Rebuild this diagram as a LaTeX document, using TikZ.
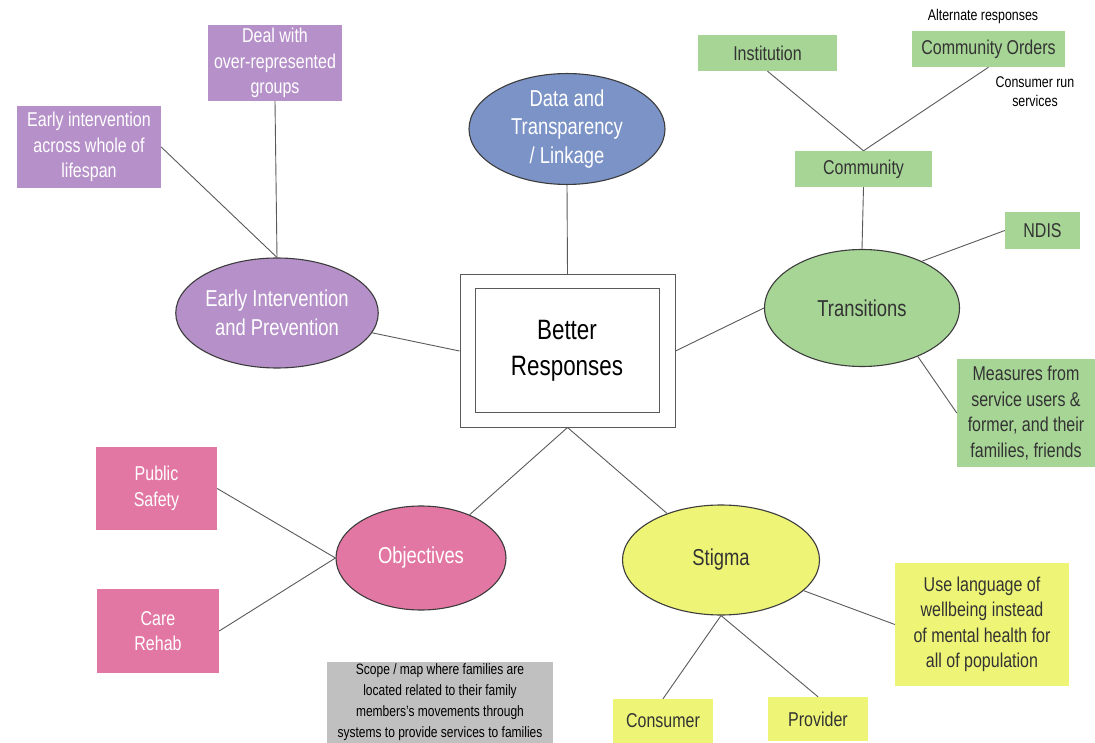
\documentclass[tikz,border=0pt]{standalone}
\usepackage{fontspec}
\setmainfont{Liberation Sans}[FakeStretch=0.8]
\usetikzlibrary{shapes.geometric}

\definecolor{linegray}{HTML}{5A5A5A}
\definecolor{edgegray}{HTML}{3C3C3C}
\definecolor{ink}{HTML}{333333}
\definecolor{bluefill}{HTML}{7B93C6}
\definecolor{purplefill}{HTML}{B690C9}
\definecolor{pinkfill}{HTML}{E377A3}
\definecolor{yellowfill}{HTML}{EEF576}
\definecolor{greenfill}{HTML}{A7D596}
\definecolor{greyfill}{HTML}{C0C0C0}

\tikzset{
  conn/.style={draw=linegray, line width=0.9pt},
  bubble/.style={ellipse, draw=edgegray, line width=1.1pt, inner sep=0pt,
    align=center, font=\fontsize{23}{28.5}\selectfont},
  card/.style={rectangle, inner sep=0pt, align=center,
    font=\fontsize{20}{25.5}\selectfont},
  note/.style={inner sep=0pt, align=center, font=\fontsize{15.5}{19}\selectfont},
  purplecard/.style={card, fill=purplefill, text=white},
  pinkcard/.style={card, fill=pinkfill, text=white},
  greencard/.style={card, fill=greenfill, text=ink},
  yellowcard/.style={card, fill=yellowfill, text=ink},
}

\begin{document}
\begin{tikzpicture}[x=1pt, y=-1pt]
\useasboundingbox[fill=white] (0,0) rectangle (1095,743);

% central hub: double framed box
\node[draw=linegray, line width=1pt, fill=white, minimum width=215pt, minimum height=152pt, inner sep=0pt] (core) at (567.5,351) {};
\node[draw=linegray, line width=1pt, minimum width=184pt, minimum height=123pt, inner sep=0pt,
      align=center, font=\fontsize{28}{36}\selectfont] (coreIn) at (567,350.5) {Better\\Responses};

% main themes
\node[bubble, fill=bluefill, text=white, minimum width=196pt, minimum height=100pt] (data) at (567,129) {Data and\\Transparency\\/ Linkage};
\node[bubble, fill=purplefill, text=white, minimum width=196pt, minimum height=110pt] (early) at (277,313) {Early Intervention\\and Prevention};
\node[bubble, fill=greenfill, text=ink, minimum width=195pt, minimum height=117pt] (trans) at (862,308) {Transitions};
\node[bubble, fill=pinkfill, text=white, minimum width=170pt, minimum height=104pt] (obj) at (421,558) {Objectives};
\node[bubble, fill=yellowfill, text=ink, minimum width=197pt, minimum height=110pt] (stigma) at (721,560) {Stigma};

% early intervention branch
\node[purplecard, minimum width=134pt, minimum height=76pt] (deal) at (275,63) {Deal with\\over-represented\\groups};
\node[purplecard, minimum width=144pt, minimum height=82pt] (lifespan) at (89,147) {Early intervention\\across whole of\\lifespan};

% transitions branch
\node[greencard, minimum width=139pt, minimum height=36pt] (inst) at (767.5,53) {Institution};
\node[greencard, minimum width=153pt, minimum height=36pt] (orders) at (988.5,49) {Community Orders};
\node[greencard, minimum width=137pt, minimum height=36pt] (comm) at (863.5,169) {Community};
\node[greencard, minimum width=75pt, minimum height=37pt] (ndis) at (1042.5,230.5) {NDIS};
\node[greencard, minimum width=138pt, minimum height=108pt] (measures) at (1026,413) {Measures from\\service users \&\\former, and their\\families, friends};
\node[note] (alt) at (983,16) {Alternate responses};
\node[note] (crun) at (1035,92) {Consumer run\\services};

% objectives branch
\node[pinkcard, minimum width=121pt, minimum height=83pt] (safety) at (156.5,488.5) {Public\\Safety};
\node[pinkcard, minimum width=122pt, minimum height=84pt] (rehab) at (158,631) {Care\\Rehab};

% stigma branch
\node[yellowcard, minimum width=174pt, minimum height=123pt] (lang) at (982,624.5) {Use language of\\wellbeing instead\\of mental health for\\all of population};
\node[yellowcard, minimum width=100pt, minimum height=44pt] (consumer) at (663,721) {Consumer};
\node[yellowcard, minimum width=100pt, minimum height=44pt] (provider) at (818,719) {Provider};

% family mapping note
\node[card, fill=greyfill, text=black, minimum width=226pt, minimum height=81pt,
      font=\fontsize{15}{21}\selectfont] (scope) at (440,702.5) {Scope / map where families are\\located related to their family\\members's movements through\\systems to provide services to families};

% connectors
\draw[conn] (data.south) -- (core.north);
\draw[conn] (early) -- (core.west);
\draw[conn] (core.east) -- (trans.west);
\draw[conn] (core.south) -- (obj);
\draw[conn] (core.south) -- (stigma);

\draw[conn] (deal.south) -- (early.north);
\draw[conn] (lifespan.east) -- (early.north);

\draw[conn] (inst.south) -- (comm.north);
\draw[conn] (orders.south) -- (comm.north);
\draw[conn] (comm.south) -- (trans.north);
\draw[conn] (ndis.west) -- (trans.38);
\draw[conn] (trans.-41) -- (measures.west);

\draw[conn] (safety.east) -- (obj.west);
\draw[conn] (rehab.east) -- (obj.west);

\draw[conn] (stigma) -- (lang.west);
\draw[conn] (stigma.south) -- (consumer.north);
\draw[conn] (stigma.south) -- (provider.north);
\end{tikzpicture}
\end{document}
